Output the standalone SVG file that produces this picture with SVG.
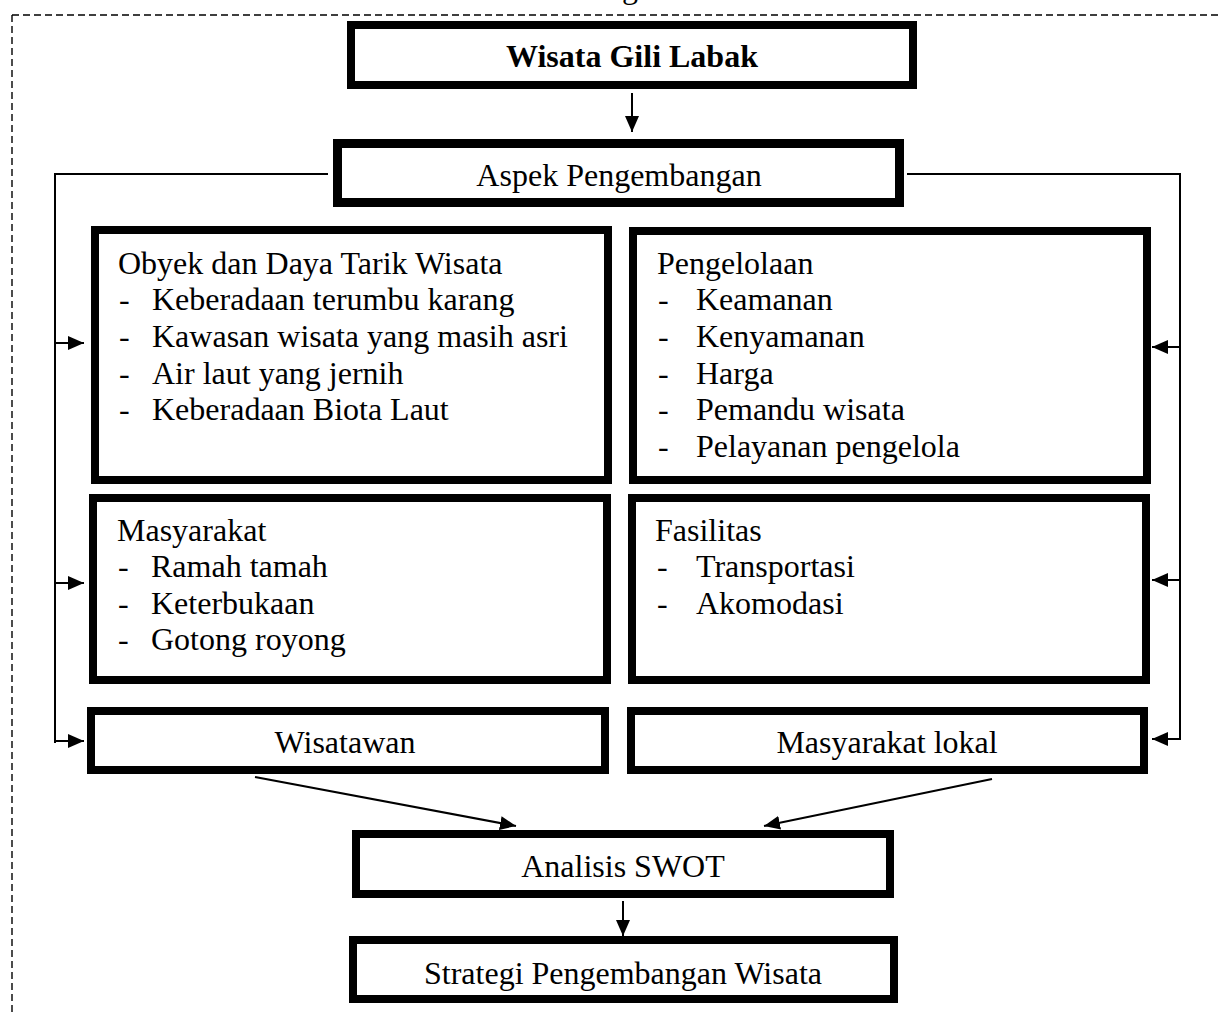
<svg xmlns="http://www.w3.org/2000/svg" width="1219" height="1016" viewBox="0 0 1219 1016">
<defs>
<style>
.box{fill:#fff;stroke:#000;stroke-width:8}
.t{font-family:"Liberation Serif","Times New Roman",serif;font-size:32px;fill:#000}
.c{text-anchor:middle}
.b{font-weight:bold}
.ln{fill:none;stroke:#000;stroke-width:2}
.dash{fill:none;stroke:#000;stroke-width:1.4;stroke-dasharray:7 4}
</style>
<marker id="ah" markerUnits="userSpaceOnUse" markerWidth="17" markerHeight="14" refX="16" refY="7" orient="auto">
<path d="M0,0 L16,7 L0,14 Z" fill="#000"/>
</marker>
</defs>
<rect width="1219" height="1016" fill="#fff"/>
<text class="t c" x="630" y="-2">g</text>
<path class="dash" d="M12,15 H1219 M12,15 V1016"/>

<g id="connectors">
<line class="ln" x1="632" y1="93" x2="632" y2="132" marker-end="url(#ah)"/>
<path class="ln" d="M328,174 H55 V743"/>
<line class="ln" x1="55" y1="343" x2="84" y2="343" marker-end="url(#ah)"/>
<line class="ln" x1="55" y1="583" x2="84" y2="583" marker-end="url(#ah)"/>
<line class="ln" x1="55" y1="741" x2="84" y2="741" marker-end="url(#ah)"/>
<path class="ln" d="M907,174 H1180 V740"/>
<line class="ln" x1="1180" y1="347" x2="1152" y2="347" marker-end="url(#ah)"/>
<line class="ln" x1="1180" y1="580" x2="1152" y2="580" marker-end="url(#ah)"/>
<line class="ln" x1="1180" y1="739" x2="1152" y2="739" marker-end="url(#ah)"/>
<line class="ln" x1="255" y1="777" x2="516" y2="826" marker-end="url(#ah)"/>
<line class="ln" x1="992" y1="779" x2="764" y2="826" marker-end="url(#ah)"/>
<line class="ln" x1="623" y1="901" x2="623" y2="936" marker-end="url(#ah)"/>
</g>

<g id="n1"><rect class="box" x="351" y="25" width="562" height="60"/>
<text class="t c b" x="632" y="67">Wisata Gili Labak</text></g>

<g id="n2"><rect class="box" x="337.5" y="143.5" width="562" height="59" style="stroke-width:9"/>
<text class="t c" x="619" y="186">Aspek Pengembangan</text></g>

<g id="n3"><rect class="box" x="95" y="230" width="513" height="250"/>
<text class="t" x="118" y="274">Obyek dan Daya Tarik Wisata</text>
<text class="t" x="119" y="310">-</text><text class="t" x="152" y="310">Keberadaan terumbu karang</text>
<text class="t" x="119" y="347">-</text><text class="t" x="152" y="347">Kawasan wisata yang masih asri</text>
<text class="t" x="119" y="384">-</text><text class="t" x="152" y="384">Air laut yang jernih</text>
<text class="t" x="119" y="420">-</text><text class="t" x="152" y="420">Keberadaan Biota Laut</text></g>

<g id="n4"><rect class="box" x="633" y="231" width="514" height="249"/>
<text class="t" x="657" y="274">Pengelolaan</text>
<text class="t" x="658" y="310">-</text><text class="t" x="696" y="310">Keamanan</text>
<text class="t" x="658" y="347">-</text><text class="t" x="696" y="347">Kenyamanan</text>
<text class="t" x="658" y="384">-</text><text class="t" x="696" y="384">Harga</text>
<text class="t" x="658" y="420">-</text><text class="t" x="696" y="420">Pemandu wisata</text>
<text class="t" x="658" y="457">-</text><text class="t" x="696" y="457">Pelayanan pengelola</text></g>

<g id="n5"><rect class="box" x="93" y="498" width="514" height="182"/>
<text class="t" x="117" y="541">Masyarakat</text>
<text class="t" x="118" y="577">-</text><text class="t" x="151" y="577">Ramah tamah</text>
<text class="t" x="118" y="614">-</text><text class="t" x="151" y="614">Keterbukaan</text>
<text class="t" x="118" y="650">-</text><text class="t" x="151" y="650">Gotong royong</text></g>

<g id="n6"><rect class="box" x="632" y="498" width="514" height="182"/>
<text class="t" x="655" y="541">Fasilitas</text>
<text class="t" x="657" y="577">-</text><text class="t" x="696" y="577">Transportasi</text>
<text class="t" x="657" y="614">-</text><text class="t" x="696" y="614">Akomodasi</text></g>

<g id="n7"><rect class="box" x="91" y="711" width="514" height="59"/>
<text class="t c" x="345" y="753">Wisatawan</text></g>

<g id="n8"><rect class="box" x="631" y="711" width="513" height="59"/>
<text class="t c" x="887" y="753">Masyarakat lokal</text></g>

<g id="n9"><rect class="box" x="356" y="834" width="534" height="60"/>
<text class="t c" x="623" y="877">Analisis SWOT</text></g>

<g id="n10"><rect class="box" x="353" y="940" width="541" height="59"/>
<text class="t c" x="623" y="984">Strategi Pengembangan Wisata</text></g>
</svg>
